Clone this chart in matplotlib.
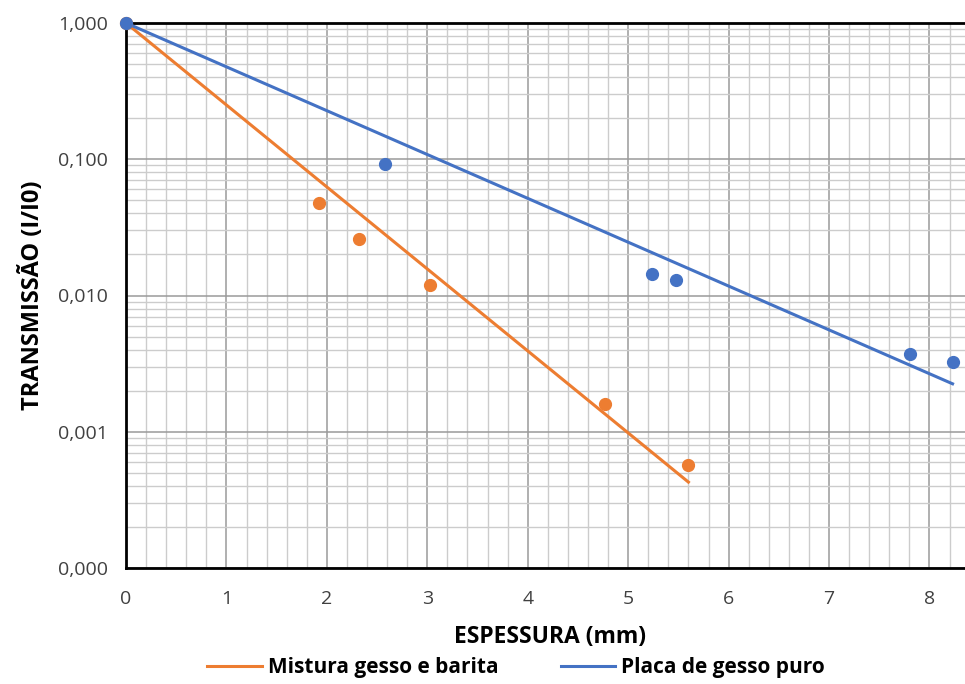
import numpy as np
import matplotlib.pyplot as plt
from matplotlib.ticker import FixedLocator, MultipleLocator, LogLocator, NullFormatter

plt.rcParams['font.family'] = ['Open Sans', 'DejaVu Sans']

# data
x_barita = [0, 1.92, 2.32, 3.03, 4.77, 5.60]
y_barita = [1.0, 0.048, 0.0258, 0.0120, 0.0016, 0.00057]
x_gesso = [0, 2.58, 5.24, 5.48, 7.81, 8.23]
y_gesso = [1.0, 0.092, 0.0143, 0.0131, 0.00375, 0.00327]

yticks = [1e-4, 1e-3, 1e-2, 1e-1, 1]
ytick_labels = ['0,000', '0,001', '0,010', '0,100', '1,000']

orange = '#ED7D31'
blue = '#4472C4'


def exp_fit(x, y):
    # exponential trend line with intercept fixed at 1
    x = np.asarray(x, float)
    ly = np.log(np.asarray(y, float))
    k = np.sum(x * ly) / np.sum(x * x)
    xs = np.linspace(0, x.max(), 100)
    return xs, np.exp(k * xs)


fig = plt.figure(figsize=(9.65, 6.84), dpi=100)
ax = fig.add_axes([126 / 965, 1 - 568 / 684, 1 - 126 / 965 + 0.01, (568 - 23) / 684])

xs, ys = exp_fit(x_barita, y_barita)
ax.plot(xs, ys, color=orange, lw=2.2, label='Mistura gesso e barita', zorder=3)
xs, ys = exp_fit(x_gesso, y_gesso)
ax.plot(xs, ys, color=blue, lw=2.2, label='Placa de gesso puro', zorder=3)
ax.plot(x_barita, y_barita, 'o', color=orange, ms=8.5, zorder=4, clip_on=False)
ax.plot(x_gesso, y_gesso, 'o', color=blue, ms=8.5, zorder=4, clip_on=False)

ax.set_yscale('log')
ax.set_ylim(1e-4, 1)
ax.set_xlim(0, 8.45)
ax.yaxis.set_major_locator(FixedLocator(yticks))
ax.set_yticklabels(ytick_labels)
ax.yaxis.set_minor_locator(LogLocator(base=10, subs=np.arange(2, 10)))
ax.yaxis.set_minor_formatter(NullFormatter())
ax.xaxis.set_major_locator(MultipleLocator(1))
ax.xaxis.set_minor_locator(MultipleLocator(0.2))

ax.grid(which='major', color='#9a9a9a', lw=1.1)
ax.grid(which='minor', color='#cccccc', lw=1.0)
ax.set_axisbelow(True)
ax.tick_params(which='both', length=0, labelsize=14, colors='#404040')
ax.tick_params(axis='x', pad=16)
ax.tick_params(axis='y', pad=13)
for s in ['left', 'bottom', 'top']:
    ax.spines[s].set_linewidth(2)
    ax.spines[s].set_color('black')
ax.spines['right'].set_visible(False)

ax.set_xlabel('ESPESSURA (mm)', fontsize=16.5, fontweight='bold')
ax.set_ylabel('TRANSMISSÃO (I/I0)', fontsize=17, fontweight='bold')
ax.xaxis.set_label_coords((545 - 126) / (965 - 126), -0.105)
ax.yaxis.set_label_coords(-0.095, 0.5)

fig.legend(loc='center', bbox_to_anchor=(0.535, 1 - 668 / 684), ncol=2, frameon=False,
           prop={'size': 15, 'weight': 'bold'}, handlelength=2.6, columnspacing=3,
           handletextpad=0.3)

fig.savefig('out.png', dpi=100)
